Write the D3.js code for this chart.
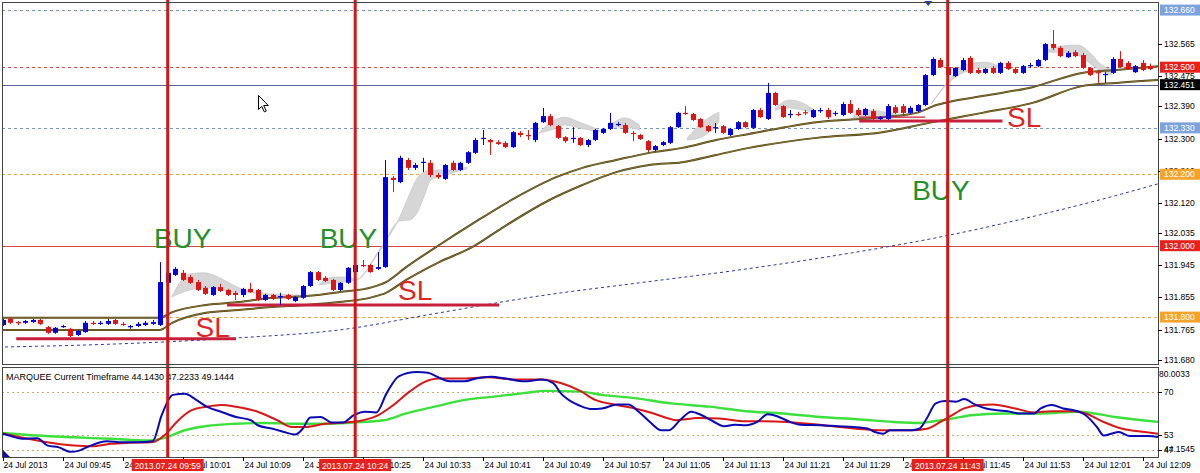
<!DOCTYPE html>
<html><head><meta charset="utf-8">
<script src="https://cdn.jsdelivr.net/npm/d3@7"></script>
<style>body{margin:0;background:#fff;overflow:hidden}svg{display:block;font-family:"Liberation Sans",Arial,sans-serif}</style>
</head><body><svg id="c" width="1200" height="473"></svg>
<script>
// ---------- DATA ----------
// one-minute candles from 24 Jul 09:37 (index 0) : [open, high, low, close]
const candles = [
[131.778,131.795,131.775,131.792],[131.795,131.798,131.781,131.784],[131.786,131.789,131.778,131.784],[131.784,131.792,131.781,131.789],
[131.786,131.795,131.784,131.792],[131.792,131.795,131.778,131.781],[131.772,131.775,131.753,131.756],[131.756,131.772,131.753,131.770],
[131.772,131.778,131.770,131.775],[131.767,131.770,131.744,131.747],[131.750,131.764,131.747,131.761],[131.758,131.789,131.756,131.784],
[131.784,131.789,131.778,131.781],[131.781,131.789,131.778,131.784],[131.781,131.795,131.778,131.789],[131.792,131.795,131.778,131.781],
[131.781,131.786,131.775,131.778],[131.772,131.778,131.767,131.775],[131.775,131.786,131.772,131.781],[131.778,131.789,131.775,131.784],
[131.781,131.792,131.778,131.786],[131.778,131.954,131.775,131.898],[131.896,131.938,131.890,131.924],[131.918,131.940,131.915,131.935],
[131.924,131.932,131.901,131.904],[131.912,131.918,131.893,131.896],[131.898,131.904,131.873,131.876],[131.882,131.887,131.862,131.865],
[131.862,131.887,131.859,131.884],[131.884,131.893,131.870,131.873],[131.876,131.879,131.859,131.862],[131.868,131.873,131.848,131.862],
[131.862,131.882,131.856,131.879],[131.879,131.896,131.868,131.870],[131.876,131.879,131.845,131.848],[131.848,131.865,131.845,131.862],
[131.862,131.865,131.848,131.851],[131.856,131.868,131.834,131.859],[131.862,131.865,131.848,131.851],[131.845,131.859,131.842,131.856],
[131.854,131.890,131.851,131.887],[131.887,131.929,131.884,131.926],[131.926,131.929,131.901,131.904],[131.910,131.915,131.898,131.901],
[131.904,131.907,131.873,131.876],[131.876,131.898,131.873,131.896],[131.896,131.940,131.893,131.938],[131.926,131.949,131.924,131.946],
[131.946,131.960,131.940,131.943],[131.946,131.949,131.924,131.926],[131.935,131.982,131.932,131.940],[131.940,132.240,131.938,132.192],
[132.190,132.195,132.150,132.184],[132.178,132.252,132.175,132.246],[132.240,132.246,132.212,132.218],[132.218,132.232,132.212,132.226],
[132.232,132.246,132.206,132.235],[132.232,132.240,132.192,132.198],[132.198,132.204,132.187,132.192],[132.187,132.229,132.184,132.226],
[132.232,132.238,132.209,132.212],[132.212,132.235,132.209,132.232],[132.232,132.265,132.229,132.262],[132.260,132.302,132.257,132.296],
[132.299,132.324,132.282,132.302],[132.296,132.299,132.254,132.290],[132.290,132.296,132.282,132.285],[132.288,132.293,132.274,132.276],
[132.276,132.321,132.274,132.318],[132.316,132.321,132.304,132.310],[132.310,132.324,132.296,132.307],[132.296,132.347,132.290,132.344],
[132.346,132.386,132.344,132.363],[132.363,132.369,132.335,132.338],[132.335,132.338,132.299,132.302],[132.304,132.307,132.288,132.293],
[132.299,132.332,132.288,132.302],[132.302,132.304,132.279,132.282],[132.282,132.299,132.276,132.296],[132.296,132.327,132.293,132.324],
[132.316,132.330,132.313,132.327],[132.327,132.372,132.324,132.344],[132.338,132.346,132.335,132.341],[132.338,132.344,132.313,132.316],
[132.316,132.321,132.293,132.313],[132.310,132.313,132.296,132.299],[132.293,132.296,132.262,132.268],[132.268,132.282,132.265,132.279],
[132.282,132.293,132.279,132.290],[132.288,132.335,132.285,132.332],[132.332,132.375,132.330,132.372],[132.372,132.391,132.366,132.369],
[132.369,132.372,132.349,132.352],[132.355,132.358,132.330,132.332],[132.335,132.338,132.318,132.321],[132.330,132.344,132.316,132.332],
[132.335,132.338,132.313,132.316],[132.310,132.330,132.307,132.327],[132.327,132.349,132.324,132.346],[132.346,132.349,132.330,132.332],
[132.330,132.383,132.327,132.380],[132.380,132.386,132.358,132.360],[132.355,132.456,132.352,132.428],[132.428,132.431,132.391,132.394],
[132.391,132.394,132.358,132.360],[132.366,132.380,132.358,132.369],[132.369,132.375,132.363,132.366],[132.374,132.380,132.366,132.372],
[132.360,132.383,132.358,132.380],[132.377,132.386,132.372,132.380],[132.380,132.386,132.355,132.360],[132.369,132.377,132.363,132.372],
[132.366,132.402,132.363,132.397],[132.397,132.408,132.369,132.372],[132.380,132.386,132.363,132.366],[132.366,132.386,132.363,132.383],
[132.377,132.383,132.352,132.355],[132.355,132.363,132.352,132.360],[132.355,132.397,132.352,132.391],[132.388,132.394,132.369,132.372],
[132.391,132.397,132.366,132.372],[132.372,132.391,132.369,132.386],[132.377,132.397,132.374,132.394],[132.394,132.481,132.391,132.478],
[132.478,132.528,132.475,132.523],[132.520,132.526,132.498,132.500],[132.500,132.506,132.475,132.478],[132.475,132.500,132.472,132.498],
[132.492,132.526,132.489,132.520],[132.526,132.531,132.481,132.484],[132.492,132.498,132.481,132.484],[132.484,132.498,132.481,132.495],
[132.498,132.503,132.481,132.484],[132.484,132.515,132.481,132.512],[132.512,132.517,132.492,132.495],[132.495,132.500,132.481,132.484],
[132.484,132.506,132.481,132.503],[132.503,132.512,132.498,132.506],[132.503,132.523,132.500,132.520],[132.520,132.568,132.517,132.565],
[132.565,132.604,132.548,132.554],[132.554,132.559,132.528,132.531],[132.528,132.545,132.526,132.540],[132.542,132.548,132.528,132.531],
[132.534,132.540,132.495,132.498],[132.498,132.500,132.475,132.478],[132.486,132.492,132.456,132.484],[132.478,132.486,132.456,132.481],
[132.484,132.528,132.481,132.523],[132.523,132.545,132.500,132.500],[132.512,132.517,132.492,132.495],[132.486,132.506,132.484,132.503],
[132.512,132.520,132.489,132.492],[132.503,132.510,132.492,132.495]
];
// moving averages [barIndex, price]
const maFast = [[-0.5,131.798],[20.9,131.798],[22.6,131.814],[27.1,131.834],[31.5,131.842],[35.9,131.854],[40.5,131.859],[44.9,131.870],[49.3,131.884],[51.1,131.898],[53.8,131.940],[58.2,132.002],[62.6,132.061],[68.5,132.136],[73.8,132.192],[77.3,132.218],[81.8,132.240],[86.2,132.260],[90.6,132.274],[95.1,132.296],[99.5,132.313],[108.5,132.346],[117.3,132.360],[121.8,132.372],[124.5,132.394],[130.6,132.419],[137.3,132.444],[143.9,132.484],[148.5,132.492],[154.2,132.503]];
const maSlow = [[-0.5,131.764],[20.9,131.764],[22.6,131.784],[27.1,131.812],[31.5,131.820],[35.9,131.828],[40.5,131.834],[44.9,131.842],[49.3,131.856],[51.1,131.868],[53.8,131.904],[58.2,131.954],[62.6,131.996],[66.6,132.050],[72.9,132.128],[77.3,132.170],[81.8,132.206],[86.2,132.226],[90.6,132.234],[95.1,132.254],[99.5,132.274],[108.5,132.302],[117.3,132.318],[123.5,132.344],[130.6,132.372],[137.3,132.400],[143.9,132.447],[148.5,132.456],[154.2,132.464]];
const maLong = [[-0.5,131.716],[15.5,131.725],[31.5,131.742],[44.9,131.764],[58.2,131.812],[71.5,131.859],[84.9,131.896],[98.2,131.932],[111.5,131.974],[124.9,132.024],[138.2,132.086],[146.2,132.128],[154,132.173]];
// grey ribbon segments [barIndex, priceA, priceB]
const ribbon = [
 [[22.5,131.856,131.856],[24.9,131.921,131.876],[26.9,131.924,131.882],[28.9,131.910,131.879],[31.0,131.887,131.870],[33.1,131.870,131.868],[35.5,131.865,131.862],[39.5,131.862,131.859]],
 [[42.2,131.893,131.890],[44.2,131.912,131.896],[46.2,131.912,131.901],[47.1,131.904,131.904],[50.2,131.988,131.982],[52.9,132.078,132.069],[54.2,132.142,132.072],[55.3,132.190,132.094],[56.2,132.206,132.139],[57.1,132.212,132.184],[59.5,132.212,132.201],[61.9,132.220,132.215]],
 [[71.5,132.316,132.316],[73.1,132.346,132.324],[74.9,132.360,132.338],[76.9,132.346,132.330],[79.5,132.324,132.318]],
 [[80.9,132.335,132.332],[82.9,132.358,132.332],[84.9,132.338,132.324]],
 [[91.3,132.302,132.296],[92.9,132.338,132.302],[94.5,132.363,132.324],[95.5,132.374,132.346]],
 [[103,132.386,132.380],[104.9,132.408,132.386],[106.6,132.400,132.380],[108.2,132.380,132.374]],
 [[113.5,132.366,132.358],[115.5,132.380,132.360],[118.2,132.372,132.358],[120.2,132.366,132.360]],
 [[123.8,132.397,132.397],[126.2,132.464,132.458],[128.2,132.506,132.486],[130.9,132.514,132.498],[132.9,132.503,132.498]],
 [[139.3,132.548,132.542],[141.1,132.559,132.542],[143.3,132.562,132.534],[144.9,132.542,132.512],[146.2,132.512,132.492],[147.8,132.492,132.478]]
];
// horizontal price levels
const levelPrices = [132.660, 132.500, 132.451, 132.330, 132.200, 132.000, 131.800];
const levelLabels = ["132.660","132.500","132.451","132.330","132.200","132.000","131.800"];
const priceTicks = ["132.565","132.475","132.390","132.300","132.210","132.120","132.035","131.945","131.855","131.765","131.680"];
// signals
const signalBars = [22, 47, 126];
const signalLabels = ["2013.07.24 09:59","2013.07.24 10:24","2013.07.24 11:43"];
const buyText = [[24,131.994],[46.1,131.994],[125.1,132.128]];
const slText = [[28,131.744],[55,131.848],[136.2,132.332]];
const slLines = [[1.8,31.1,131.739],[29.9,66.2,131.834],[114.2,133.3,132.349]];
const slThin = [[114.2,123,132.360]];
const topMarkerBar = 123.4;
// time axis
const timeTickBars = [0,8,16,24,32,40,48,56,64,72,80,88,96,104,112,120,128,136,144,152];
const timeTickLabels = ["24 Jul 2013","24 Jul 09:45","24 Jul 09:53","24 Jul 10:01","24 Jul 10:09","24 Jul 10:17","24 Jul 10:25","24 Jul 10:33","24 Jul 10:41","24 Jul 10:49","24 Jul 10:57","24 Jul 11:05","24 Jul 11:13","24 Jul 11:21","24 Jul 11:29","24 Jul 11:37","24 Jul 11:45","24 Jul 11:53","24 Jul 12:01","24 Jul 12:09"];
// indicator (MARQUEE) [barIndex, value]
const indBlue = [[-0.4,53.8],[1.1,52.5],[2.6,51.4],[4.6,51.6],[6.0,48.7],[7.5,48.0],[9.0,46.2],[10.2,46.7],[11.5,48.4],[13.9,50.4],[15.9,50.0],[17.9,50.0],[20.0,50.4],[21.2,60.8],[22.7,68.9],[24.3,69.3],[25.8,66.9],[27.2,64.2],[29.1,62.2],[31.1,60.1],[33.1,58.8],[34.0,56.8],[36.0,55.4],[37.5,54.1],[39.0,53.1],[40.0,55.4],[41.0,59.9],[42.4,60.1],[43.9,57.9],[45.4,57.9],[46.8,60.8],[48.3,62.2],[49.8,61.9],[51.2,69.6],[52.8,76.3],[55.2,78.0],[56.7,77.7],[58.2,75.7],[59.6,74.3],[61.6,74.3],[63.1,75.4],[65.1,76.1],[67.1,75.4],[69.5,74.3],[71.9,75.0],[73.4,73.6],[74.4,69.6],[77.0,64.5],[78.4,63.3],[79.9,63.5],[81.9,65.1],[83.4,65.1],[84.8,62.2],[86.3,58.1],[87.8,54.8],[88.8,54.8],[90.3,58.8],[91.8,62.2],[93.2,60.8],[94.7,58.4],[96.2,56.4],[97.6,57.0],[99.1,56.8],[100.6,58.1],[102.0,61.2],[103.5,60.1],[105.0,58.1],[106.4,57.0],[109.0,56.8],[111.4,56.4],[113.4,56.1],[115.4,55.4],[116.3,54.1],[117.4,53.4],[118.3,54.8],[121.2,54.8],[122.2,55.4],[123.2,59.5],[124.4,65.5],[125.6,66.5],[127.1,66.2],[128.2,67.3],[129.6,65.1],[131.1,63.5],[132.6,62.8],[134.0,62.4],[135.5,61.5],[137.5,61.5],[138.4,63.5],[139.9,64.9],[141.4,63.5],[142.8,62.8],[144.4,60.8],[145.9,56.1],[146.8,52.7],[147.8,53.4],[148.8,54.1],[150.3,52.5],[152.7,52.5],[154.2,52.1]];
const indRed = [[-0.4,53.8],[9.5,48.7],[11.9,48.4],[14.4,49.4],[16.8,49.8],[19.8,50.0],[21.8,53.4],[23.2,58.1],[25.2,62.8],[27.2,64.2],[29.1,64.9],[31.1,64.2],[34.0,62.2],[36.6,58.8],[38.6,56.1],[40.4,56.1],[43.0,57.4],[45.4,57.9],[47.4,58.4],[49.8,60.4],[51.8,64.2],[54.3,70.3],[56.2,74.0],[58.2,75.4],[61.1,75.4],[64.6,75.9],[68.6,75.0],[71.9,75.0],[74.4,73.6],[77.0,70.5],[79.0,66.9],[81.9,64.9],[84.3,63.5],[86.8,61.5],[88.8,59.5],[89.8,58.8],[92.7,59.7],[95.6,59.5],[98.6,58.4],[101.6,58.4],[104.6,58.1],[107.5,57.4],[110.4,56.5],[113.9,55.4],[117.4,54.8],[121.2,54.8],[123.2,55.4],[125.2,58.4],[126.2,60.1],[128.2,63.5],[130.2,64.9],[132.0,65.1],[135.0,63.5],[137.5,61.9],[139.9,62.4],[142.8,62.4],[144.4,61.5],[146.8,58.1],[149.3,55.4],[152.3,54.1],[154.2,53.4]];
const indGreen = [[-0.4,53.8],[4.6,52.7],[9.5,52.0],[14.4,51.4],[19.4,50.7],[21.8,52.0],[24.3,54.8],[27.2,56.5],[31.1,57.4],[35.1,57.7],[39.0,57.4],[43.0,57.4],[46.8,57.9],[50.8,58.8],[53.8,61.5],[57.6,64.2],[61.6,66.9],[65.5,68.2],[69.5,69.6],[72.4,70.5],[77.0,70.2],[79.9,68.9],[84.3,67.6],[89.2,65.5],[94.2,64.2],[99.1,62.4],[104.0,61.5],[109.0,60.1],[113.9,59.2],[118.8,58.1],[122.2,57.7],[124.2,58.4],[126.2,59.2],[129.1,60.8],[133.5,61.5],[138.4,61.5],[143.4,62.2],[148.3,60.1],[154.2,58.1]];
const indLevels = [70, 53, 47];
const indAxisLabels = ["80.0033","70","53","47","44.1545"];
const indAxisValues = [80.0033, 70, 53, 47, 44.1545];
const indTitle = "MARQUEE Current Timeframe 44.1430 47.2233 49.1444";

// ---------- DRAW ----------
const svg = d3.select('#c');
const L = 2, R = 1158, T = 2, B = 364, IT = 367, IB = 457;
const x = d3.scaleLinear().domain([0, 154]).range([2.7, 1157.7]);
const y = d3.scaleLinear().domain([131.6686, 132.6826]).range([B, T]);
const yi = d3.scaleLinear().domain([44.1545, 80.0033]).range([IB, IT]);

svg.append('rect').attr('width',1200).attr('height',473).attr('fill','#fff');
const defs = svg.append('defs');
defs.append('clipPath').attr('id','cm').append('rect').attr('x',L).attr('y',T).attr('width',R-L).attr('height',B-T);
defs.append('clipPath').attr('id','ci').append('rect').attr('x',L).attr('y',IT).attr('width',R-L).attr('height',IB-IT);

const main = svg.append('g').attr('clip-path','url(#cm)');
const ind = svg.append('g').attr('clip-path','url(#ci)');

const levelStyle = [
 {c:'#7394cc', d:'3,3', bg:'#7ea3dc'},
 {c:'#d84a4a', d:'3,3', bg:'#e8201c'},
 {c:'#5a64a0', d:null,  bg:'#000000'},
 {c:'#7394cc', d:'3,3', bg:'#7ea3dc'},
 {c:'#e8a040', d:'3,3', bg:'#f4a42c'},
 {c:'#d84848', d:null,  bg:'#e8201c'},
 {c:'#e8a040', d:'3,3', bg:'#f4a42c'}
];
levelPrices.forEach((p,k)=>{
  main.append('line').attr('x1',L).attr('x2',R).attr('y1',Math.round(y(p))+0.5).attr('y2',Math.round(y(p))+0.5)
   .attr('stroke',levelStyle[k].c).attr('stroke-width',1).attr('stroke-dasharray',levelStyle[k].d);
});

// long MA dotted
const lineP = d3.line().x(d=>x(d[0])).y(d=>y(d[1])).curve(d3.curveMonotoneX);
main.append('path').attr('d',lineP(maLong)).attr('fill','none').attr('stroke','#2838a8').attr('stroke-width',1).attr('stroke-dasharray','3,3');

// grey ribbon
const areaR = d3.area().x(d=>x(d[0])).y0(d=>y(d[1])).y1(d=>y(d[2])).curve(d3.curveMonotoneX);
ribbon.forEach(seg=>{
  main.append('path').attr('d',areaR(seg)).attr('fill','#d6d6d6').attr('stroke','#c8c8c8').attr('stroke-width',0.8);
});

// MAs (olive)
[maFast, maSlow].forEach(m=>{
  main.append('path').attr('d',lineP(m)).attr('fill','none').attr('stroke','#4e4016').attr('stroke-width',2);
  main.append('path').attr('d',lineP(m)).attr('fill','none').attr('stroke','#a89240').attr('stroke-width',0.6);
});

// SL lines
slLines.forEach(s=>{
  main.append('line').attr('x1',x(s[0])).attr('x2',x(s[1])).attr('y1',y(s[2])).attr('y2',y(s[2]))
    .attr('stroke','#c8203c').attr('stroke-width',3);
});
slThin.forEach(s=>{
  main.append('line').attr('x1',x(s[0])).attr('x2',x(s[1])).attr('y1',y(s[2])).attr('y2',y(s[2]))
    .attr('stroke','#c8203c').attr('stroke-width',1.2);
});

// candles
const cg = main.append('g');
candles.forEach((d,i)=>{
  const [o,h,l,c] = d;
  const col = c>=o ? '#0000e0' : '#e01414';
  const cx = Math.round(x(i));
  cg.append('line').attr('x1',cx+0.5).attr('x2',cx+0.5).attr('y1',y(h)).attr('y2',y(l)).attr('stroke',col).attr('stroke-width',1);
  const top = y(Math.max(o,c)), hgt = Math.max(1.2, Math.abs(y(o)-y(c)));
  cg.append('rect').attr('x',cx-2).attr('y',top).attr('width',5).attr('height',hgt).attr('fill',col);
});

// texts BUY / SL
buyText.forEach(b=>{
  main.append('text').attr('x',x(b[0])).attr('y',y(b[1])).attr('text-anchor','middle')
   .attr('font-size',28).attr('fill','#23902a').text('BUY');
});
slText.forEach(b=>{
  main.append('text').attr('x',x(b[0])).attr('y',y(b[1])).attr('text-anchor','middle')
   .attr('font-size',28).attr('fill','#e02424').text('SL');
});

// top marker
svg.append('path').attr('d',`M${x(topMarkerBar)-4},1 L${x(topMarkerBar)+4},1 L${x(topMarkerBar)},6 Z`).attr('fill','#1c3cc0');

// cursor
svg.append('path').attr('d','M258.5,95.5 l0,14 l3.2,-3.2 l2.6,5.6 l2,-0.9 l-2.6,-5.5 l4.6,0 z').attr('fill','#fff').attr('stroke','#000').attr('stroke-width',1);

// indicator panel
indLevels.forEach(v=>{
  ind.append('line').attr('x1',L).attr('x2',R).attr('y1',Math.round(yi(v))+0.5).attr('y2',Math.round(yi(v))+0.5)
   .attr('stroke','#c8a878').attr('stroke-width',1).attr('stroke-dasharray','2,3');
});
const lineI = d3.line().x(d=>x(d[0])).y(d=>yi(d[1])).curve(d3.curveMonotoneX);
ind.append('path').attr('d',lineI(indGreen)).attr('fill','none').attr('stroke','#3ce03c').attr('stroke-width',2.4);
ind.append('path').attr('d',lineI(indRed)).attr('fill','none').attr('stroke','#d81818').attr('stroke-width',2);
ind.append('path').attr('d',lineI(indBlue)).attr('fill','none').attr('stroke','#0a0ab4').attr('stroke-width',2);
ind.append('path').attr('d',`M${L},${IB} L${L+8},${IB} L${L},${IB-8} Z`).attr('fill','#0a0ab4');
svg.append('text').attr('x',6).attr('y',380).attr('font-size',9).attr('fill','#000').text(indTitle);

// vertical signal lines
signalBars.forEach(b=>{
  svg.append('line').attr('x1',x(b)).attr('x2',x(b)).attr('y1',0).attr('y2',IB)
   .attr('stroke','#d01616').attr('stroke-width',3);
});

// frames
svg.append('rect').attr('x',L+0.5).attr('y',T+0.5).attr('width',R-L).attr('height',B-T).attr('fill','none').attr('stroke','#444');
svg.append('rect').attr('x',L+0.5).attr('y',IT+0.5).attr('width',R-L).attr('height',IB-IT).attr('fill','none').attr('stroke','#444');

// right price axis
const ax = svg.append('g').attr('font-size',8.5).attr('fill','#000');
priceTicks.forEach(t=>{
  const yy = Math.round(y(+t))+0.5;
  ax.append('line').attr('x1',R).attr('x2',R+4).attr('y1',yy).attr('y2',yy).attr('stroke','#000');
  ax.append('text').attr('x',R+6).attr('y',yy).attr('dy','0.35em').text(t);
});
levelPrices.forEach((p,k)=>{
  const yy = y(p);
  ax.append('rect').attr('x',R+2).attr('y',yy-5.5).attr('width',40).attr('height',11).attr('fill',levelStyle[k].bg);
  ax.append('text').attr('x',R+6).attr('y',yy).attr('dy','0.35em').attr('fill','#fff').text(levelLabels[k]);
});
// indicator axis
indAxisValues.forEach((v,k)=>{
  let yy = yi(v);
  if (k===0) yy = IT+7; if (k===4) yy = IB-8;
  if (k>0 && k<4) ax.append('line').attr('x1',R).attr('x2',R+4).attr('y1',Math.round(yy)+0.5).attr('y2',Math.round(yy)+0.5).attr('stroke','#000');
  ax.append('text').attr('x',k===0?R+1:R+6).attr('y',yy).attr('dy','0.35em').text(indAxisLabels[k]);
});

// time axis
const tx = svg.append('g').attr('font-size',8.5).attr('fill','#000');
timeTickBars.forEach((b,k)=>{
  const xx = Math.round(x(b))+0.5;
  tx.append('line').attr('x1',xx).attr('x2',xx).attr('y1',IB).attr('y2',IB+4).attr('stroke','#000');
  tx.append('text').attr('x',xx+ (k===0?0:1)).attr('y',468).text(timeTickLabels[k]);
});
signalBars.forEach((b,k)=>{
  const xx = x(b);
  tx.append('rect').attr('x',xx-36).attr('y',459).attr('width',72).attr('height',12).attr('fill','#e8201c');
  tx.append('text').attr('x',xx).attr('y',468.5).attr('text-anchor','middle').attr('fill','#fff').text(signalLabels[k]);
});
</script></body></html>
